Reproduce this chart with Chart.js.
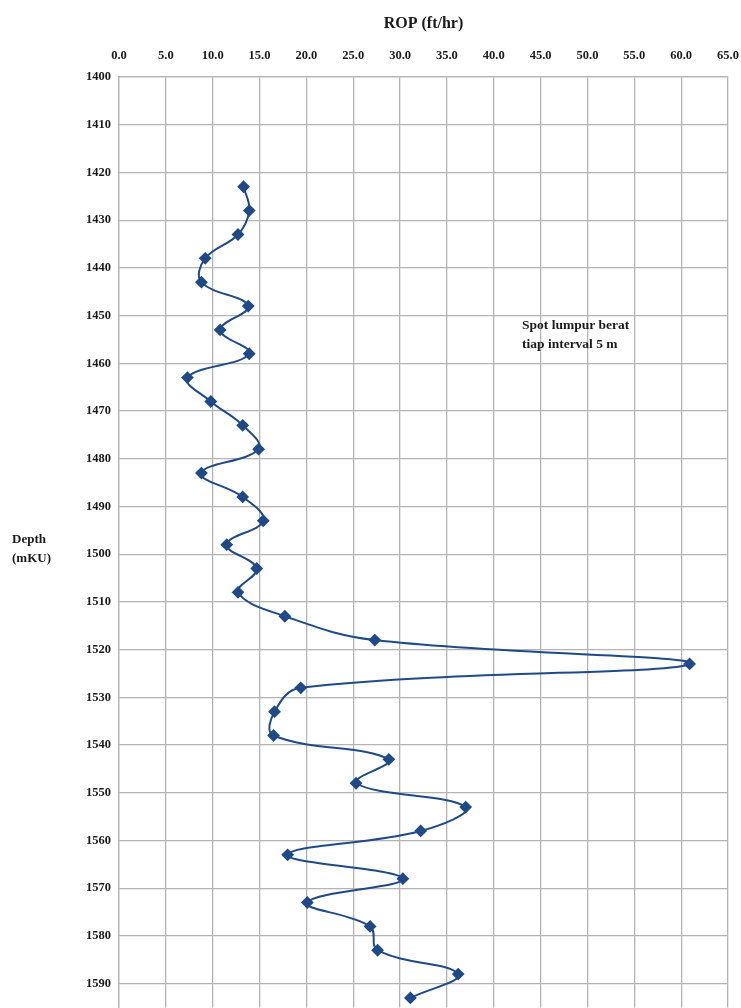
<!DOCTYPE html>
<html>
<head>
<meta charset="utf-8">
<script src="https://cdn.jsdelivr.net/npm/chart.js@4"></script>
<style>
  html, body { margin: 0; padding: 0; background: #fff; overflow: hidden; }
  canvas { display: block; }
</style>
</head>
<body>
<canvas id="ropChart" width="741" height="1023"></canvas>
<script>
// kedalaman titik spot (mKU), tiap 5 m
const depths = [1423, 1428, 1433, 1438, 1443, 1448, 1453, 1458, 1463, 1468,
    1473, 1478, 1483, 1488, 1493, 1498, 1503, 1508, 1513, 1518,
    1523, 1528, 1533, 1538, 1543, 1548, 1553, 1558, 1563, 1568,
    1573, 1578, 1583, 1588, 1593];
// ROP (ft/hr)
const ropValues = [13.3, 13.9, 12.7, 9.2, 8.8, 13.8, 10.8, 13.9, 7.3, 9.8,
    13.2, 14.9, 8.8, 13.2, 15.4, 11.5, 14.7, 12.7, 17.7, 27.3,
    60.9, 19.4, 16.6, 16.5, 28.8, 25.3, 37.0, 32.2, 18.0, 30.3,
    20.1, 26.8, 27.6, 36.2, 31.1];
const ropTicks = { min: 0, max: 65, step: 5 };
const depthTicks = { min: 1400, max: 1595, step: 10 };
const noteLines = ['Spot lumpur berat', 'tiap interval 5 m'];
const depthTitle = ['Depth', '(mKU)'];

const serif = '"Liberation Serif", "DejaVu Serif", serif';
const lineColor = '#1f4a87';

// teks tambahan: judul sumbu kedalaman (horizontal) dan catatan
const extraText = {
    id: 'extraText',
    afterDraw(chart) {
        const ctx = chart.ctx;
        ctx.save();
        ctx.fillStyle = '#1a1a1a';
        ctx.textBaseline = 'middle';
        ctx.textAlign = 'left';
        ctx.font = 'bold 13px ' + serif;
        ctx.fillText(depthTitle[0], 12, 540);
        ctx.fillText(depthTitle[1], 12, 559);

        ctx.font = 'bold 13.5px ' + serif;
        ctx.fillText(noteLines[0], 522, 326);
        ctx.fillText(noteLines[1], 522, 345);
        ctx.restore();
    }
};

const points = depths.map((d, i) => ({ x: ropValues[i], y: d }));

new Chart(document.getElementById('ropChart').getContext('2d'), {
    type: 'line',
    data: {
        datasets: [{
            label: 'ROP',
            data: points,
            borderColor: lineColor,
            backgroundColor: lineColor,
            borderWidth: 2,
            pointStyle: 'rectRot',
            pointRadius: 5,
            pointHoverRadius: 5,
            tension: 0.4,
            fill: false
        }]
    },
    options: {
        responsive: false,
        animation: false,
        events: [],
        layout: { padding: { top: 0, right: 13, bottom: 0, left: 0 } },
        plugins: {
            legend: { display: false },
            tooltip: { enabled: false }
        },
        scales: {
            x: {
                type: 'linear',
                position: 'top',
                min: ropTicks.min,
                max: ropTicks.max,
                ticks: {
                    stepSize: ropTicks.step,
                    padding: 14,
                    color: '#1a1a1a',
                    font: { family: serif, size: 12.5, weight: 'bold' },
                    callback: v => v.toFixed(1)
                },
                grid: { color: '#b4b4b4', lineWidth: 1.3, drawTicks: false },
                border: { color: '#b4b4b4', width: 1.3 },
                title: {
                    display: true,
                    text: 'ROP (ft/hr)',
                    color: '#1a1a1a',
                    font: { family: serif, size: 16, weight: 'bold' },
                    padding: { top: 14, bottom: 0 }
                },
                afterFit(scale) {
                    scale.height = 77;
                    scale.paddingRight = 0;
                    scale.paddingLeft = 0;
                }
            },
            y: {
                type: 'linear',
                reverse: true,
                min: depthTicks.min,
                max: depthTicks.max,
                ticks: {
                    stepSize: depthTicks.step,
                    padding: 8,
                    color: '#1a1a1a',
                    font: { family: serif, size: 12.5, weight: 'bold' },
                    callback: v => String(v)
                },
                afterBuildTicks(scale) {
                    scale.ticks = scale.ticks.filter(t => t.value % depthTicks.step === 0);
                },
                grid: { color: '#b4b4b4', lineWidth: 1.3, drawTicks: false },
                border: { color: '#b4b4b4', width: 1.3 },
                afterFit(scale) { scale.width = 119; }
            }
        }
    },
    plugins: [extraText]
});
</script>
</body>
</html>
